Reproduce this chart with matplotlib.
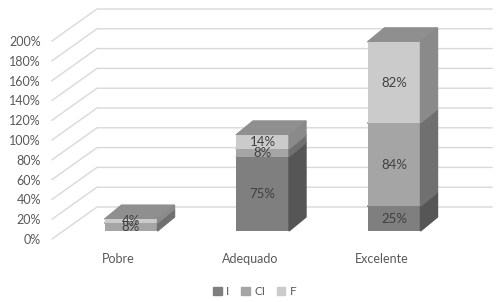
import matplotlib.pyplot as plt
from matplotlib.patches import Polygon, Patch

categories = ['Pobre', 'Adequado', 'Excelente']
series = ['I', 'CI', 'F']
val_i = [0, 75, 25]
val_ci = [8, 8, 84]
val_f = [4, 14, 82]
yticks = [0, 20, 40, 60, 80, 100, 120, 140, 160, 180, 200]

front_colors = ['#7f7f7f', '#a5a5a5', '#cbcbcb']
side_colors = ['#565656', '#707070', '#8a8a8a']
top_colors = ['#6e6e6e', '#8a8a8a', '#8f8f8f']

plt.rcParams['font.family'] = ['Lato', 'DejaVu Sans']

# pixel scale of the fake 3d layout
PX = 0.99          # pixels per percent
X0, STEP = 131, 131.5
W = 500, 302

fig = plt.figure(figsize=(5, 3.02), dpi=100)
ax = fig.add_axes([0, 0, 1, 1])
ax.set_xlim(-X0 / STEP, (W[0] - X0) / STEP)
ax.set_ylim(-(W[1] - 231) / PX, 231 / PX)
ax.axis('off')


def hx(px):
    return (px - X0) / STEP


# back wall gridlines with the diagonal side wall
front_x, back_x, end_x = hx(52), hx(97), hx(492)
front_dy, back_dy = -8 / PX, 24 / PX
for v in yticks:
    ax.plot([front_x, back_x, end_x], [v + front_dy, v + back_dy, v + back_dy],
            color='#d9d9d9', lw=1, zorder=0)
    ax.text(hx(41), v + front_dy - 1, f'{v}%', ha='right', va='center',
            fontsize=9, color='#595959')

# stacked bars, front faces through ax.bar and depth faces as polygons
width = 53 / STEP
ddx, ddy = 17 / STEP, 14 / PX
values = [val_i, val_ci, val_f]
bottoms = [0] * len(categories)
for s, vals in enumerate(values):
    ax.bar(range(len(categories)), vals, width, bottom=bottoms,
           color=front_colors[s], zorder=2)
    for c, v in enumerate(vals):
        if v == 0:
            continue
        b, t = bottoms[c], bottoms[c] + v
        xr = c + width / 2
        xl = c - width / 2
        ax.add_patch(Polygon([(xr, b), (xr + ddx, b + ddy), (xr + ddx, t + ddy), (xr, t)],
                             closed=True, color=side_colors[s], zorder=2))
        ax.add_patch(Polygon([(xl, t), (xl + ddx, t + ddy), (xr + ddx, t + ddy), (xr, t)],
                             closed=True, color=top_colors[s], zorder=1.9 + 0.01 * s))
        ax.text(c, (b + t) / 2, f'{v}%', ha='center', va='center',
                fontsize=9.5, color='#404040', zorder=3)
    bottoms = [b + v for b, v in zip(bottoms, vals)]

for c, name in enumerate(categories):
    ax.text(c - 12.5 / STEP, -28 / PX, name, ha='center', va='center',
            fontsize=9, color='#595959')

handles = [Patch(color=col) for col in front_colors]
fig.legend(handles, series, loc='center', bbox_to_anchor=(0.51, 0.035), ncol=3,
           frameon=False, fontsize=8.5, handlelength=0.7, handleheight=0.7,
           handletextpad=0.4, columnspacing=1.0, labelcolor='#595959')

fig.savefig('out.png', dpi=100)
